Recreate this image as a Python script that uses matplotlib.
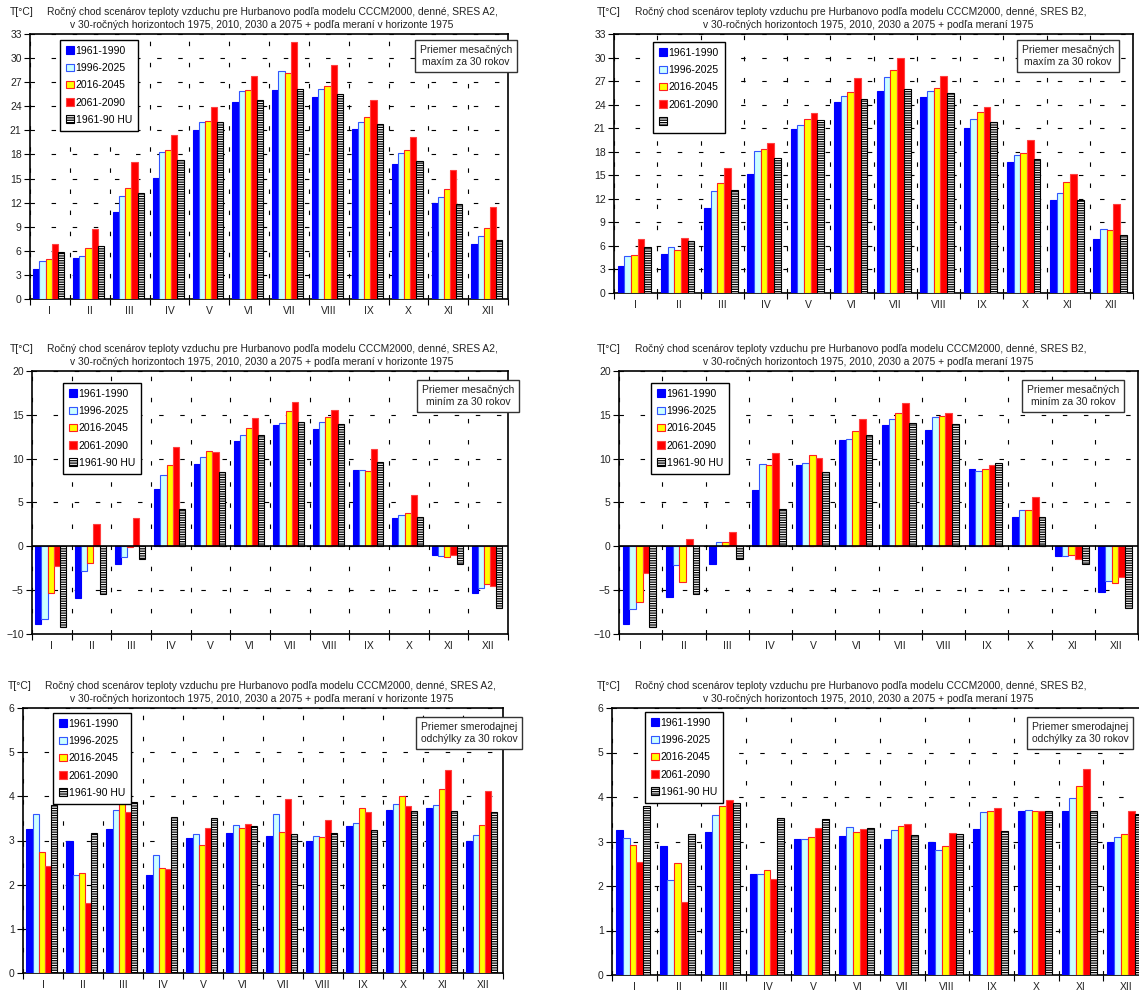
import numpy as np
import matplotlib
matplotlib.use('Agg')
import matplotlib.pyplot as plt
from matplotlib.patches import Patch

plt.rcParams['font.family'] = ['Liberation Sans', 'DejaVu Sans']
plt.rcParams['hatch.linewidth'] = 0.9

W, H = 1139, 994

months = ['I', 'II', 'III', 'IV', 'V', 'VI', 'VII', 'VIII', 'IX', 'X', 'XI', 'XII']
periods = ['1961-1990', '1996-2025', '2016-2045', '2061-2090', '1961-90 HU']

# priemer mesacnych maxim, SRES A2
a2_max = [
    [3.7, 5.1, 10.8, 15.1, 21.0, 24.5, 26.0, 25.1, 21.2, 16.8, 11.9, 6.8],
    [4.7, 5.4, 12.8, 18.3, 22.0, 25.9, 28.4, 26.2, 22.0, 18.2, 12.7, 7.9],
    [5.0, 6.4, 13.8, 18.6, 22.2, 26.0, 28.1, 26.5, 22.7, 18.5, 13.7, 8.8],
    [6.8, 8.7, 17.0, 20.4, 23.9, 27.8, 32.0, 29.2, 24.8, 20.2, 16.1, 11.4],
    [5.8, 6.6, 13.2, 17.3, 22.0, 24.8, 26.1, 25.5, 21.8, 17.2, 11.8, 7.4],
]
# priemer mesacnych maxim, SRES B2
b2_max = [
    [3.5, 5.0, 10.8, 15.2, 20.9, 24.3, 25.8, 25.0, 21.0, 16.7, 11.8, 6.9],
    [4.7, 5.8, 13.0, 18.1, 21.4, 25.1, 27.5, 25.8, 22.2, 17.6, 12.8, 8.2],
    [4.8, 5.5, 14.0, 18.4, 22.2, 25.6, 28.4, 26.1, 23.0, 17.8, 14.1, 8.0],
    [6.9, 7.0, 15.9, 19.1, 22.9, 27.4, 29.9, 27.6, 23.7, 19.5, 15.2, 11.4],
    [5.8, 6.6, 13.1, 17.2, 22.0, 24.7, 26.0, 25.5, 21.8, 17.1, 11.8, 7.4],
]
# priemer mesacnych minim, SRES A2
a2_min = [
    [-8.85, -5.9, -2.0, 6.5, 9.4, 12.0, 13.8, 13.4, 8.7, 3.25, -1.0, -5.3],
    [-8.3, -2.8, -1.2, 8.1, 10.2, 12.7, 14.1, 14.2, 8.7, 3.6, -1.1, -4.75],
    [-5.3, -1.9, -0.1, 9.3, 10.9, 13.5, 15.4, 14.7, 8.55, 3.85, -1.2, -4.25],
    [-2.3, 2.6, 3.2, 11.3, 10.8, 14.65, 16.5, 15.5, 11.1, 5.9, -1.0, -4.5],
    [-9.2, -5.4, -1.45, 4.25, 8.5, 12.7, 14.2, 13.9, 9.6, 3.3, -2.05, -7.05],
]
# priemer mesacnych minim, SRES B2
b2_min = [
    [-8.9, -5.8, -2.0, 6.4, 9.3, 12.15, 13.8, 13.3, 8.8, 3.3, -1.05, -5.25],
    [-7.2, -2.15, 0.55, 9.4, 9.5, 12.3, 14.5, 14.8, 8.6, 4.2, -1.15, -3.9],
    [-6.35, -4.05, 0.55, 9.3, 10.4, 13.1, 15.2, 14.9, 8.85, 4.2, -0.95, -4.15],
    [-3.0, 0.8, 1.6, 10.65, 10.1, 14.55, 16.3, 15.25, 9.3, 5.6, -1.5, -3.55],
    [-9.2, -5.4, -1.5, 4.3, 8.5, 12.7, 14.1, 13.9, 9.5, 3.3, -2.05, -7.05],
]
# priemer smerodajnej odchylky, SRES A2
a2_std = [
    [3.26, 2.99, 3.27, 2.21, 3.05, 3.17, 3.10, 2.98, 3.32, 3.68, 3.73, 3.00],
    [3.60, 2.21, 3.70, 2.67, 3.14, 3.36, 3.60, 3.10, 3.40, 3.83, 3.80, 3.12],
    [2.75, 2.27, 3.89, 2.38, 2.90, 3.29, 3.20, 3.08, 3.74, 4.00, 4.17, 3.35],
    [2.42, 1.58, 3.65, 2.36, 3.29, 3.38, 3.94, 3.47, 3.64, 3.77, 4.60, 4.12],
    [3.81, 3.17, 3.87, 3.53, 3.52, 3.32, 3.14, 3.17, 3.24, 3.67, 3.67, 3.64],
]
# priemer smerodajnej odchylky, SRES B2
b2_std = [
    [3.26, 2.89, 3.22, 2.27, 3.06, 3.13, 3.06, 2.98, 3.29, 3.68, 3.68, 3.00],
    [3.07, 2.13, 3.60, 2.26, 3.05, 3.33, 3.26, 2.81, 3.67, 3.71, 3.97, 3.09],
    [2.92, 2.52, 3.80, 2.36, 3.11, 3.22, 3.35, 2.89, 3.68, 3.68, 4.24, 3.16],
    [2.55, 1.65, 3.93, 2.15, 3.31, 3.27, 3.40, 3.19, 3.75, 3.68, 4.64, 3.68],
    [3.80, 3.17, 3.87, 3.53, 3.51, 3.31, 3.14, 3.17, 3.24, 3.68, 3.68, 3.62],
]

title_a2 = ('Ročný chod scenárov teploty vzduchu pre Hurbanovo podľa modelu CCCM2000, denné, SRES A2,',
            'v 30-ročných horizontoch 1975, 2010, 2030 a 2075 + podľa meraní v horizonte 1975')
title_b2 = ('Ročný chod scenárov teploty vzduchu pre Hurbanovo podľa modelu CCCM2000, denné, SRES B2,',
            'v 30-ročných horizontoch 1975, 2010, 2030 a 2075 + podľa meraní 1975')
note_max = 'Priemer mesačných\nmaxím za 30 rokov'
note_min = 'Priemer mesačných\nminím za 30 rokov'
note_std = 'Priemer smerodajnej\nodchýlky za 30 rokov'

colors = ['#0000FF', '#CCFFFF', '#FFFF00', '#FF0000', 'white']
edges = ['#0000FF', '#3355FF', '#FF2020', '#FF4040', 'black']
hatches = [None, None, None, None, '-------']


def px(x, y):
    return x / W, 1 - y / H


def panel(fig, box, data, ylim, step, title, note, legend_xy, note_xy, title_x, hu_label=True):
    l, r, t, b = box
    ax = fig.add_axes([l / W, 1 - b / H, (r - l) / W, (b - t) / H])
    x = np.arange(len(months))
    wd = 0.155
    handles = []
    for i, vals in enumerate(data):
        ax.bar(x + (i - 2) * wd - 0.03, vals, wd, color=colors[i], edgecolor=edges[i],
               hatch=hatches[i], linewidth=0.8, zorder=3)
        handles.append(Patch(facecolor=colors[i], edgecolor=edges[i], hatch=hatches[i], linewidth=0.8))
    ax.set_xlim(-0.5, len(months) - 0.5)
    ax.set_ylim(*ylim)
    ax.set_yticks(np.arange(ylim[0], ylim[1] + 0.01, step))
    ax.set_xticks(x)
    ax.set_xticklabels(months)
    ax.set_xticks(np.arange(-0.5, len(months) - 0.4, 1), minor=True)
    ax.tick_params(axis='x', which='major', length=0, pad=5, labelsize=7.5)
    ax.tick_params(axis='x', which='minor', length=4, width=0.8, direction='out')
    ax.tick_params(axis='y', length=4, width=0.8, labelsize=7.5, pad=2)
    ax.tick_params(axis='both', colors='black', labelcolor='#222222')
    ax.grid(axis='y', which='major', linestyle=(0, (4, 15)), color='black', linewidth=0.8, zorder=0)
    ax.grid(axis='x', which='minor', linestyle=(0, (4, 15)), color='black', linewidth=0.8, zorder=0)
    for s in ax.spines.values():
        s.set_linewidth(1.2)
    if ylim[0] < 0:
        ax.axhline(0, color='black', linewidth=1.2, zorder=4)

    labels = list(periods)
    if not hu_label:
        labels[-1] = ''
    ax.legend(handles, labels, loc='upper left', bbox_to_anchor=px(*legend_xy),
              bbox_transform=fig.transFigure, borderaxespad=0, fontsize=7.5,
              handlelength=0.75, handleheight=0.75, handletextpad=0.2, labelspacing=0.7,
              borderpad=0.55, fancybox=False, framealpha=1, edgecolor='black')
    ax.get_legend().get_frame().set_linewidth(1.0)

    fig.text(*px(note_xy[0], note_xy[1]), note, ha='center', va='center', fontsize=7.5,
             color='#222222', linespacing=1.3,
             bbox=dict(boxstyle='square,pad=0.45', facecolor='white', edgecolor='#333333', linewidth=1.0))

    fig.text(*px(title_x[0], t - 22), 'T[°C]', ha='left', va='center', fontsize=7.5, color='#222222')
    fig.text(*px(title_x[1], t - 22), title[0], ha='left', va='center', fontsize=7.4, color='#222222')
    fig.text(*px(title_x[2], t - 9), title[1], ha='center', va='center', fontsize=7.4, color='#222222')
    return ax


fig = plt.figure(figsize=(W / 100, H / 100), dpi=100)

panel(fig, (30, 508, 34, 299), a2_max, (0, 33), 3, title_a2, note_max,
      (60, 40), (466, 56), (10, 47, 262))
panel(fig, (614, 1133, 34, 293), b2_max, (0, 33), 3, title_b2, note_max,
      (653, 42), (1068, 56), (597, 635, 868), hu_label=False)
panel(fig, (32, 508, 371, 634), a2_min, (-10, 20), 5, title_a2, note_min,
      (63, 383), (468, 396), (10, 47, 262))
panel(fig, (619, 1138, 371, 634), b2_min, (-10, 20), 5, title_b2, note_min,
      (651, 383), (1073, 396), (597, 635, 868))
panel(fig, (23, 503, 708, 973), a2_std, (0, 6), 1, title_a2, note_std,
      (53, 713), (469, 733), (8, 45, 262))
panel(fig, (612, 1148, 708, 975), b2_std, (0, 6), 1, title_b2, note_std,
      (645, 712), (1080, 733), (597, 635, 868))

fig.savefig('out.png', dpi=100)
